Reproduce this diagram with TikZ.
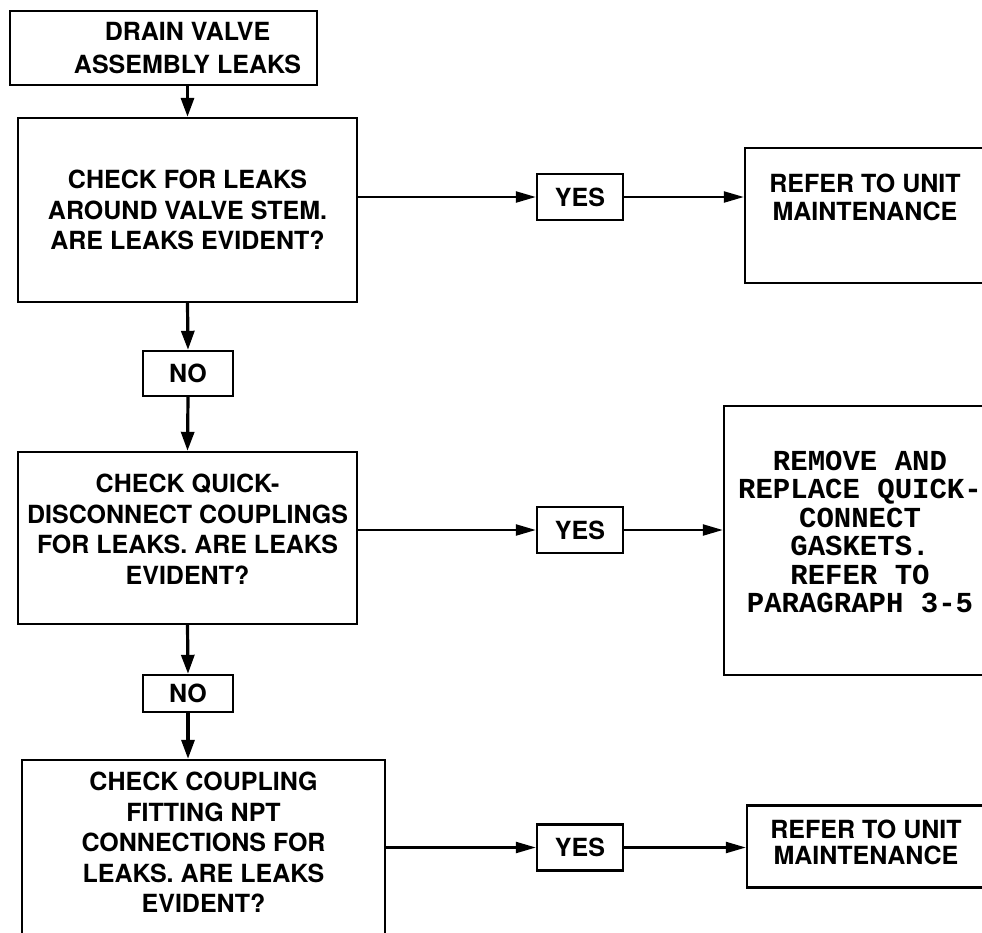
\documentclass[tikz,border=0pt]{standalone}
\usepackage{fontspec}
\setmainfont{TeX Gyre Heros}
\newfontfamily\crfont{Liberation Mono}
\usetikzlibrary{arrows.meta}
\tikzset{
  flowbox/.style={draw, line width=2.4pt, align=center, inner sep=0pt,
    font=\bfseries\fontsize{25}{30.5}\selectfont},
  crbox/.style={draw, line width=2.4pt, align=center, inner sep=0pt,
    font=\crfont\bfseries\fontsize{29}{28.5}\selectfont},
  downarr/.style={-{Triangle[length=19pt,width=13pt]}, line width=3.2pt},
  acrossarr/.style={-{Triangle[length=20pt,width=11pt]}, line width=2.3pt}
}

\begin{document}
\begin{tikzpicture}[x=1pt, y=-1pt]
\useasboundingbox (0,0) rectangle (982,932);
\clip (0,0) rectangle (982,932);
% left column: trouble and checks
\node[flowbox, minimum width=307pt, minimum height=74pt] (Start) at (163.5,48) {};
\node[flowbox, draw=none, font=\bfseries\fontsize{25}{33}\selectfont] (StartTxt) at (187.5,48) {DRAIN VALVE\\ ASSEMBLY LEAKS};
\node[flowbox, minimum width=339pt, minimum height=184pt, text depth=-12pt] (Qstem) at (187.5,210) {CHECK FOR LEAKS\\ AROUND VALVE STEM.\\ ARE LEAKS EVIDENT?};
\node[flowbox, minimum width=339pt, minimum height=172pt, text depth=18pt] (Qquick) at (187.5,538) {CHECK QUICK-\\ DISCONNECT COUPLINGS\\ FOR LEAKS. ARE LEAKS\\ EVIDENT?};
\node[flowbox, minimum width=363pt, minimum height=185pt, text depth=20pt] (Qnpt) at (203.5,852.5) {CHECK COUPLING\\ FITTING NPT\\ CONNECTIONS FOR\\ LEAKS. ARE LEAKS\\ EVIDENT?};
% NO boxes
\node[flowbox, minimum width=90pt, minimum height=45pt] (No1) at (188,373.5) {NO};
\node[flowbox, minimum width=90pt, minimum height=37pt] (No2) at (188,693.5) {NO};
% YES boxes
\node[flowbox, minimum width=86pt, minimum height=46pt] (Yes1) at (580,197) {YES};
\node[flowbox, minimum width=86pt, minimum height=46pt] (Yes2) at (580,530) {YES};
\node[flowbox, minimum width=86pt, minimum height=46pt] (Yes3) at (580,847.5) {YES};
% right column: actions
\node[flowbox, minimum width=240pt, minimum height=135pt, text depth=36pt, font=\bfseries\fontsize{25}{28}\selectfont] (Unit1) at (865,215.5) {REFER TO UNIT\\ MAINTENANCE};
\node[crbox, minimum width=272pt, minimum height=269pt, text depth=17pt] (Gasket) at (860,540.5) {REMOVE AND\\ REPLACE QUICK-\\ CONNECT\\ GASKETS.\\ REFER TO\\ PARAGRAPH 3-5};
\node[flowbox, minimum width=238pt, minimum height=82pt, text depth=9pt, font=\bfseries\fontsize{25}{26}\selectfont] (Unit2) at (866,846.5) {REFER TO UNIT\\ MAINTENANCE};
% down the NO path
\draw[downarr] (Start.south -| Qstem.north) -- (Qstem.north);
\draw[downarr] (Qstem.south) -- (No1.north);
\draw[downarr] (No1.south) -- (Qquick.north);
\draw[downarr] (Qquick.south) -- (No2.north);
\draw[downarr] (No2.south) -- (No2.south |- Qnpt.north);
% across the YES path
\draw[acrossarr] (Qstem.east |- Yes1.west) -- (Yes1.west);
\draw[acrossarr] (Yes1.east) -- (Unit1.west |- Yes1.east);
\draw[acrossarr] (Qquick.east |- Yes2.west) -- (Yes2.west);
\draw[acrossarr] (Yes2.east) -- (Gasket.west |- Yes2.east);
\draw[acrossarr] (Qnpt.east |- Yes3.west) -- (Yes3.west);
\draw[acrossarr] (Yes3.east) -- (Unit2.west |- Yes3.east);
\end{tikzpicture}
\end{document}
